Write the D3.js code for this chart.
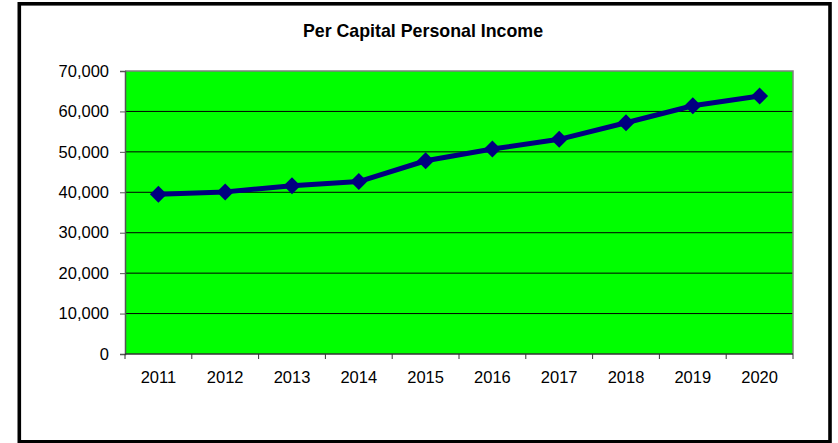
<!DOCTYPE html>
<html>
<head>
<meta charset="utf-8">
<script src="https://cdn.jsdelivr.net/npm/d3@7"></script>
<style>
  html, body { margin: 0; padding: 0; background: #fff; }
  svg { display: block; }
  text { font-family: "Liberation Sans", Arial, sans-serif; fill: #000; }
</style>
</head>
<body>
<svg id="chart" width="838" height="443"></svg>
<script>
const title = "Per Capital Personal Income";
const years = ["2011","2012","2013","2014","2015","2016","2017","2018","2019","2020"];
const income = [39500, 40100, 41600, 42650, 47800, 50700, 53100, 57200, 61400, 63800];
const yTicks = [0, 10000, 20000, 30000, 40000, 50000, 60000, 70000];

const svg = d3.select("#chart");
const plot = { left: 125, right: 793, top: 71, bottom: 354 };

// outer frame
svg.append("rect")
  .attr("x", 19.3).attr("y", 3.8)
  .attr("width", 810.7).attr("height", 438)
  .attr("fill", "#fff").attr("stroke", "#000").attr("stroke-width", 3.6);

const x = d3.scaleBand().domain(years).range([plot.left, plot.right]).padding(0);
const y = d3.scaleLinear().domain([0, 70000]).range([plot.bottom, plot.top]);

// plot background
svg.append("rect")
  .attr("x", plot.left).attr("y", plot.top)
  .attr("width", plot.right - plot.left).attr("height", plot.bottom - plot.top)
  .attr("fill", "#00ff00");

// gridlines
svg.append("g").selectAll("line")
  .data(yTicks.filter(d => d > 0 && d < 70000))
  .join("line")
  .attr("x1", plot.left).attr("x2", plot.right)
  .attr("y1", d => y(d)).attr("y2", d => y(d))
  .attr("stroke", "#000").attr("stroke-width", 1);

// plot border top & right (gray)
svg.append("path")
  .attr("d", `M${plot.left},${plot.top}H${plot.right}V${plot.bottom}`)
  .attr("fill", "none").attr("stroke", "#808080").attr("stroke-width", 1.5);

// y axis
const yAxis = d3.axisLeft(y).tickValues(yTicks).tickSize(5).tickPadding(11)
  .tickFormat(d3.format(","));
const gy = svg.append("g").attr("transform", `translate(${plot.left},0)`).call(yAxis);
gy.select(".domain").attr("stroke", "#555").attr("stroke-width", 1.5);
gy.selectAll(".tick line").attr("stroke", "#555");
gy.selectAll(".tick text")
  .style("font-family", '"Liberation Sans", Arial, sans-serif')
  .style("font-size", "16.5px").attr("fill", "#000");

// x axis: ticks at category boundaries
const gx = svg.append("g").attr("transform", `translate(0,${plot.bottom})`);
gx.append("line").attr("x1", plot.left).attr("x2", plot.right)
  .attr("stroke", "#333").attr("stroke-width", 1.5);
const bounds = years.map(d => x(d)).concat([x(years[years.length - 1]) + x.bandwidth()]);
gx.selectAll("line.tk").data(bounds).join("line").attr("class", "tk")
  .attr("x1", d => d).attr("x2", d => d).attr("y1", 0).attr("y2", 5)
  .attr("stroke", "#333").attr("stroke-width", 1);
gx.selectAll("text").data(years).join("text")
  .attr("x", d => x(d) + x.bandwidth() / 2)
  .attr("y", 28.5)
  .attr("text-anchor", "middle")
  .style("font-size", "16.5px")
  .text(d => d);

// line
const data = years.map((yr, i) => ({ yr, v: income[i] }));
const line = d3.line().x(d => x(d.yr) + x.bandwidth() / 2).y(d => y(d.v));
svg.append("path").datum(data)
  .attr("d", line)
  .attr("fill", "none").attr("stroke", "#000080").attr("stroke-width", 5)
  .attr("stroke-linejoin", "round");

// diamond markers
const r = 8.5;
svg.append("g").selectAll("path").data(data).join("path")
  .attr("transform", d => `translate(${x(d.yr) + x.bandwidth() / 2},${y(d.v)})`)
  .attr("d", `M0,${-r}L${r},0L0,${r}L${-r},0Z`)
  .attr("fill", "#000080");

// title
svg.append("text")
  .attr("x", 423).attr("y", 37)
  .attr("text-anchor", "middle")
  .style("font-size", "17.8px").style("font-weight", "bold")
  .text(title);
</script>
</body>
</html>
